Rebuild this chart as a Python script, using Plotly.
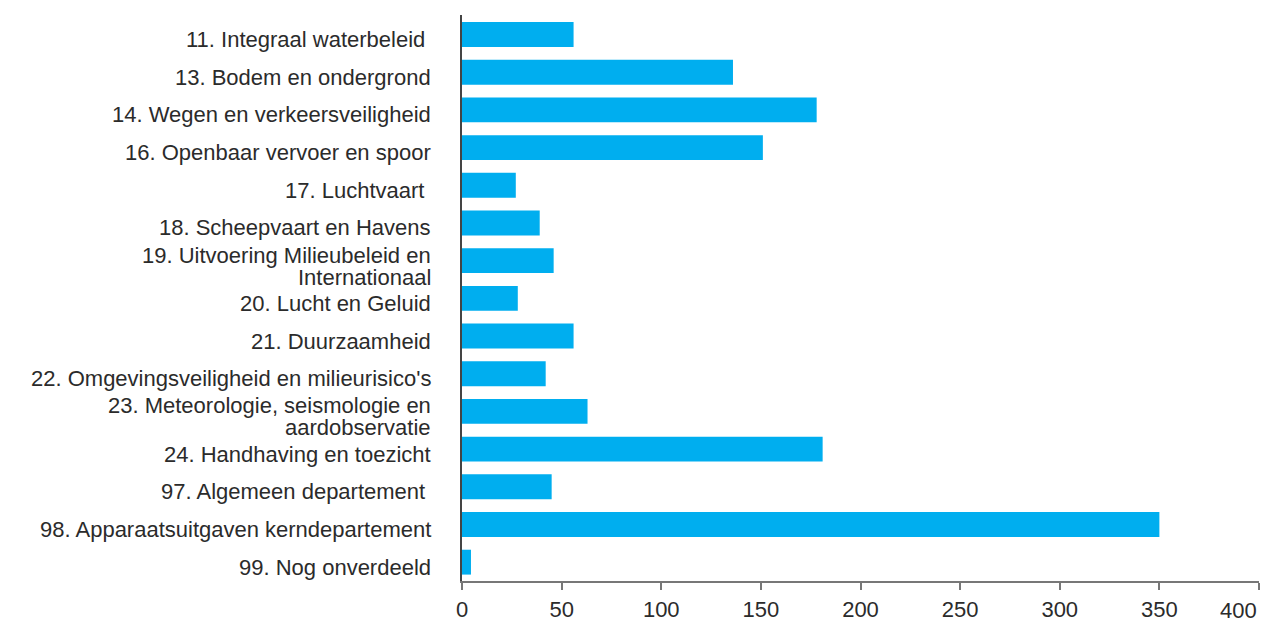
import plotly.graph_objects as go

categories = [
    "11. Integraal waterbeleid",
    "13. Bodem en ondergrond",
    "14. Wegen en verkeersveiligheid",
    "16. Openbaar vervoer en spoor",
    "17. Luchtvaart",
    "18. Scheepvaart en Havens",
    "19. Uitvoering Milieubeleid en<br>Internationaal",
    "20. Lucht en Geluid",
    "21. Duurzaamheid",
    "22. Omgevingsveiligheid en milieurisico's",
    "23. Meteorologie, seismologie en<br>aardobservatie",
    "24. Handhaving en toezicht",
    "97. Algemeen departement",
    "98. Apparaatsuitgaven kerndepartement",
    "99. Nog onverdeeld",
]
# labels drawn with a trailing space in the source
trailing_space = ["11. Integraal waterbeleid", "17. Luchtvaart", "97. Algemeen departement"]
values = [56, 136, 178, 151, 27, 39, 46, 28, 56, 42, 63, 181, 45, 350, 4.5]
x_ticks = [0, 50, 100, 150, 200, 250, 300, 350, 400]

FONT = "Liberation Sans, Arial, sans-serif"
FS = 22
TXT = "#2b2b2b"

fig = go.Figure(
    go.Bar(
        x=values,
        y=categories,
        orientation="h",
        marker=dict(color="#00AEEF", line=dict(width=0)),
        hoverinfo="x",
    )
)

annotations = []
for cat in categories:
    lines = cat.split("<br>")
    if len(lines) == 1:
        shifts = [-5]
    else:
        shifts = [5.5, -16.5]
    for line, ys in zip(lines, shifts):
        txt = line + ("\u00a0" if line in trailing_space else "")
        annotations.append(dict(
            x=0, xref="paper", xanchor="right", xshift=-29,
            y=cat, yref="y", yanchor="middle", yshift=ys,
            text=txt, showarrow=False,
            font=dict(family=FONT, size=FS, color=TXT),
        ))
# last x tick label, right-aligned to the end of the axis
annotations.append(dict(
    x=x_ticks[-1], xref="x", xanchor="right",
    y=0, yref="paper", yanchor="top", yshift=-15,
    text=str(x_ticks[-1]), showarrow=False,
    font=dict(family=FONT, size=FS, color=TXT),
))

fig.update_layout(
    width=1261,
    height=623,
    margin=dict(l=462, r=2, t=15, b=42),
    paper_bgcolor="white",
    plot_bgcolor="white",
    bargap=0.34,
    showlegend=False,
    font=dict(family=FONT, size=FS, color=TXT),
    annotations=annotations,
)
fig.update_xaxes(
    range=[0, 400],
    tickvals=x_ticks,
    ticktext=[str(v) for v in x_ticks[:-1]] + [""],
    ticks="outside",
    ticklen=7,
    tickwidth=1.5,
    tickcolor="#777777",
    ticklabelstandoff=1,
    showline=True,
    linecolor="#777777",
    linewidth=2,
    showgrid=False,
    zeroline=False,
    automargin=False,
    tickfont=dict(family=FONT, size=FS, color=TXT),
)
fig.update_yaxes(
    autorange="reversed",
    showline=True,
    linecolor="#444444",
    linewidth=2,
    showgrid=False,
    ticks="",
    showticklabels=False,
    automargin=False,
)

fig.write_html(
    "out.html",
    config={"displayModeBar": False},
    post_script="document.body.style.margin='0';document.body.style.padding='0';document.body.style.overflow='hidden';",
)
